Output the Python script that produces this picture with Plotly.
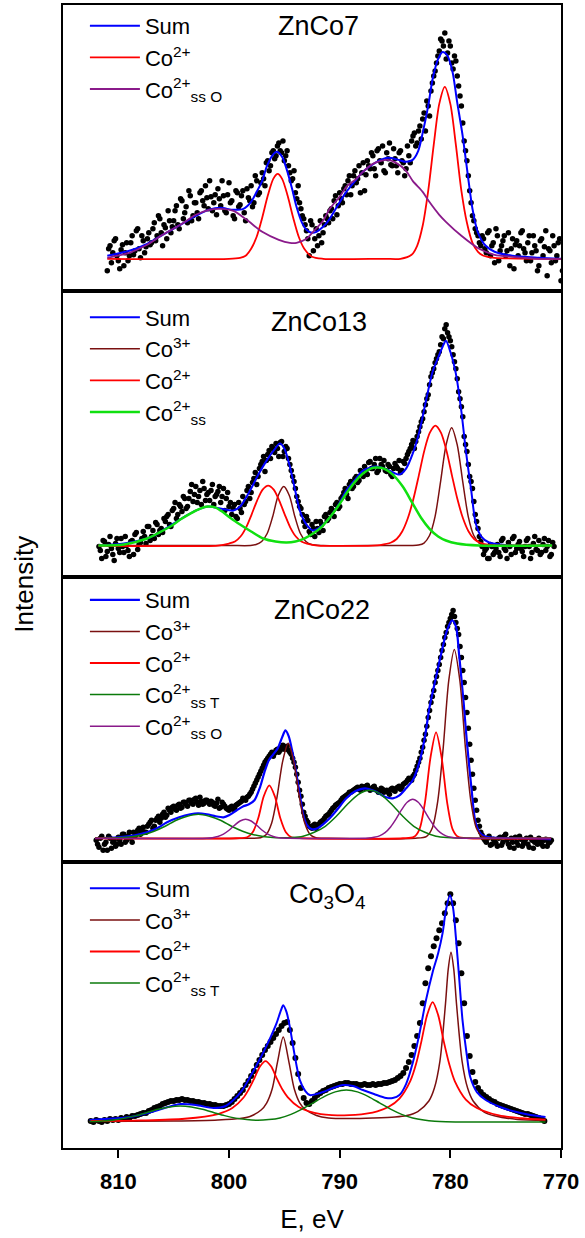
import numpy as np
import plotly.graph_objects as go
from plotly.subplots import make_subplots

# ---------------- data (binding energy, eV ; intensity, arb. units) ----------------
STEP = 0.25

# ZnCo7  (two interleaved reading passes of the measured points)
zn7_data_start = 811.0
zn7_data = [
    20, 45, 38, 52, 30, 41, 25, 48,
    35, 55, 40, 62, 33, 50, 44, 58,
    48, 68, 55, 72, 45, 63, 80, 58,
    70, 85, 62, 90, 78, 68, 95, 75,
    88, 72, 100, 85, 93, 110, 80, 96,
    102, 85, 95, 78, 108, 90, 72, 98,
    86, 100, 70, 93, 105, 88, 110, 98,
    118, 105, 130, 125, 140, 135, 148, 138,
    130, 140, 118, 112, 98, 105, 82, 72,
    60, 35, 66, 52, 45, 70, 58, 75,
    68, 82, 90, 76, 98, 88, 105, 110,
    96, 115, 108, 125, 118, 100, 130, 122,
    135, 115, 142, 128, 120, 138, 148, 125,
    132, 118, 140, 128, 122, 135, 150, 158,
    148, 165, 172, 160, 185, 200, 215, 228,
    240, 250, 258, 238, 245, 222, 230, 205,
    185, 150, 130, 100, 75, 62, 55, 45,
    52, 38, 60, 45, 28, 55, 40, 50,
    35, 58, 42, 22, 50, 45, 60, 38,
    48, 30, 55, 40, 25, 52, 44, 15,
    40, 55, 30, 48, 10]
zn7_data_b_start = 810.875
zn7_data_b = [
    42, 28, 50, 35, 22, 46, 38, 30,
    48, 36, 60, 42, 55, 38, 52, 46,
    62, 50, 75, 58, 66, 52, 70, 64,
    80, 66, 92, 72, 84, 100, 70, 88,
    78, 98, 90, 105, 82, 94, 88, 76,
    92, 110, 80, 96, 88, 75, 100, 84,
    95, 78, 102, 90, 84, 115, 96, 108,
    112, 128, 120, 138, 132, 145, 140, 150,
    135, 125, 110, 120, 92, 88, 75, 66,
    52, 70, 40, 62, 55, 48, 66, 72,
    80, 72, 95, 85, 92, 102, 96, 115,
    105, 120, 112, 98, 128, 116, 125, 138,
    122, 140, 130, 145, 118, 132, 126, 142,
    125, 138, 130, 115, 145, 128, 155, 145,
    160, 152, 178, 190, 175, 208, 220, 235,
    252, 245, 232, 250, 228, 235, 215, 195,
    168, 140, 115, 88, 70, 58, 48, 55,
    42, 58, 35, 48, 62, 30, 45, 55,
    40, 25, 52, 46, 35, 58, 42, 30,
    55, 38, 45, 20, 50, 35, 60, 42,
    28, 45, 35, 52, 20]
zn7_sum_E = [811, 809, 807.4, 806, 804.4, 803, 801.8, 800.8, 799.6, 798.7, 798, 797.5, 797, 796.6, 796.1,
             795.7, 795.2, 794.8, 794.3, 793.9, 793.4, 793, 792.5, 792.1, 791.5, 790.9, 790.2, 789.4, 788.6,
             787.9, 786.8, 785.65, 784.7, 784, 783.4, 782.9, 782.5, 782, 781.6, 781.1, 780.7, 780.3, 779.8,
             779.4, 778.9, 778.4, 778, 777.5, 776.8, 776, 774.4, 772, 770]
zn7_sum_I = [35, 40, 47, 56, 66, 75, 81, 83, 81, 82, 89, 99, 110, 124, 135, 139, 134, 122, 102, 84, 68, 61,
             58, 59, 64, 72, 85, 99, 110, 119, 128, 133, 131, 129, 131, 140, 158, 185, 212, 232, 239, 236,
             219, 190, 156, 114, 82, 58, 45, 39, 35, 33, 32]
zn7_co2_E = [811, 800, 799, 798.5, 798, 797.5, 797, 796.5, 796, 795.6, 795.2, 794.7, 794.2, 793.7, 793.2,
             792.5, 791.5, 786, 784.5, 783.5, 783, 782.5, 782, 781.5, 781, 780.5, 780, 779.5, 779, 778.5,
             778, 777.5, 777, 776, 770]
zn7_co2_I = [32, 32, 33, 35, 42, 54, 73, 95, 112, 117, 112, 95, 73, 54, 42, 34, 32, 32, 32, 36, 45, 65,
             100, 146, 187, 204, 187, 146, 100, 68, 48, 39, 35, 33, 32]
zn7_sso_E = [811, 809, 807.4, 806, 804.4, 803, 801.8, 800.8, 799.6, 798.4, 797, 795.5, 794.5, 793.9, 793,
             792.4, 791.5, 790.9, 790, 789.4, 788.5, 787.9, 787, 785.7, 784.9, 784, 783.4, 782.5, 781.9,
             781, 780.4, 779, 777.4, 776, 774.4, 772, 770]
zn7_sso_I = [33, 38, 46, 56, 66, 76, 81, 82, 80, 71, 59, 51, 48, 48, 52, 59, 70, 82, 94, 104, 112, 119,
             127, 131, 128, 120, 110, 99, 89, 76, 69, 55, 42, 36, 34, 32, 32]

# ZnCo13
zn13_data_start = 811.75
zn13_data = [
    30, 18, 35, 25, 40, 22, 33, 28,
    38, 24, 31, 20, 36, 42, 27, 34,
    45, 33, 50, 40, 38, 52, 46, 44,
    55, 62, 50, 68, 58, 72, 65, 78,
    70, 85, 75, 90, 80, 72, 88, 82,
    76, 92, 80, 85, 74, 88, 78, 70,
    62, 72, 58, 68, 80, 75, 90, 84,
    98, 92, 108, 115, 105, 122, 118, 128,
    133, 120, 135, 125, 128, 112, 100, 88,
    75, 68, 55, 60, 45, 52, 40, 48,
    55, 46, 62, 58, 68, 60, 74, 70,
    80, 88, 78, 95, 90, 100, 96, 104,
    110, 102, 115, 108, 118, 106, 112, 116,
    105, 110, 100, 113, 108, 104, 115, 118,
    125, 132, 128, 140, 150, 158, 172, 182,
    200, 208, 218, 225, 240, 248, 244, 236,
    222, 208, 185, 170, 140, 125, 100, 88,
    62, 48, 35, 22, 28, 18, 30, 24,
    32, 20, 38, 26, 34, 22, 40, 28,
    35, 25, 30, 38, 18, 33, 27, 36,
    24, 38, 30, 20, 34]
zn13_data_b_start = 811.625
zn13_data_b = [
    26, 36, 20, 32, 28, 16, 38, 24,
    30, 40, 26, 35, 22, 44, 32, 38,
    40, 50, 36, 46, 54, 42, 48, 58,
    60, 52, 66, 74, 62, 70, 80, 68,
    78, 92, 82, 74, 86, 95, 76, 84,
    86, 72, 82, 90, 80, 66, 84, 74,
    68, 60, 74, 64, 72, 86, 78, 94,
    104, 100, 112, 120, 116, 126, 130, 124,
    128, 134, 120, 130, 118, 106, 95, 80,
    70, 62, 50, 56, 42, 48, 55, 44,
    52, 60, 56, 64, 66, 72, 68, 78,
    84, 82, 92, 88, 98, 94, 106, 100,
    106, 114, 108, 112, 104, 118, 110, 106,
    112, 102, 108, 110, 116, 106, 113, 122,
    128, 136, 135, 145, 155, 165, 178, 192,
    204, 214, 222, 232, 238, 252, 240, 230,
    215, 198, 178, 160, 132, 112, 95, 75,
    55, 40, 30, 26, 18, 32, 22, 28,
    24, 36, 28, 18, 30, 38, 24, 32,
    28, 20, 36, 30, 24, 40, 26, 22,
    32, 26, 36, 22, 30]
zn13_sum_E = [811.8, 809.5, 807.4, 806.3, 805.3, 804, 803, 801.9, 800.8, 799.6, 799, 798.1, 797.3, 796.6,
              795.9, 795.4, 795, 794.5, 794, 793.6, 793, 792.4, 791.7, 790.9, 790.1, 789.4, 788.6, 787.9,
              786.7, 785.5, 784.6, 784, 783.4, 782.8, 782.2, 781.6, 781.1, 780.7, 780.4, 780, 779.5, 779,
              778.6, 778.1, 777.7, 777.2, 776.5, 774.4, 770.8]
zn13_sum_I = [31, 33, 38, 44, 51, 60, 66, 70, 68, 66, 70, 86, 103, 116, 127, 133, 128, 110, 85, 66, 52, 46,
              50, 59, 72, 86, 97, 106, 110, 106, 102, 108, 123, 145, 176, 205, 219, 230, 236, 225, 203, 165,
              126, 85, 53, 40, 34, 31, 31]
zn13_co3_E = [811.8, 800, 798.05, 797.55, 797.05, 796.55, 796.05, 795.55, 795.05, 794.55, 794.05, 793.55,
              793.05, 792.55, 791.5, 786, 783.38, 782.88, 782.38, 781.88, 781.38, 780.88, 780.38, 779.88,
              779.38, 778.88, 778.38, 777.88, 777.38, 776.88, 775, 770.8]
zn13_co3_I = [31, 31, 31, 32, 35, 43, 60, 81, 90, 81, 60, 43, 35, 32, 31, 31, 31, 31.5, 33.5, 41, 60, 95,
              132, 149, 132, 95, 60, 41, 33.5, 31.5, 31, 31]
zn13_co2_E = [811.8, 801, 800, 799.46, 798.96, 798.46, 797.96, 797.46, 796.96, 796.46, 795.96, 795.46,
              794.96, 794.46, 793.96, 793.46, 792.96, 792, 787, 786.35, 785.35, 784.85, 784.35, 783.85,
              783.35, 782.85, 782.35, 781.85, 781.35, 780.85, 780.35, 779.85, 779.35, 778.85, 778.35,
              777.85, 777.35, 776.35, 770.8]
zn13_co2_I = [31, 31, 33, 35, 40, 49, 62, 76, 87, 91, 87, 76, 62, 49, 40, 35, 33, 31, 31, 31.5, 34, 37.5,
              45, 58, 77, 101, 126, 144, 151, 144, 126, 101, 77, 58, 45, 37.5, 34, 31.5, 31]
zn13_ss_E = [811.8, 809.5, 807.4, 806.3, 805.3, 804.4, 803.5, 802.6, 801.9, 801.2, 800.5, 799.8, 799, 798,
             796.9, 795.8, 794.8, 794, 793.2, 792.4, 791.6, 790.9, 790.1, 789.4, 788.6, 787.9, 787.2, 786.7,
             786, 785.2, 784.3, 783.4, 782.6, 781.9, 781.1, 780.4, 779.4, 777.4, 770.8]
zn13_ss_I = [31, 32, 38, 44, 50, 57, 63, 68, 70, 69, 64, 58, 52, 45, 38, 35, 34, 35, 38, 43, 50, 59, 71,
             83, 95, 103, 108, 109, 108, 102, 90, 73, 58, 48, 40, 36, 33, 31, 31]

# ZnCo22
zn22_data_start = 812.0
zn22_data = [
    22, 15, 26, 18, 12, 24, 20, 16,
    25, 18, 28, 22, 30, 20, 26, 32,
    28, 35, 30, 38, 42, 36, 44, 40,
    48, 45, 54, 50, 56, 52, 58, 55,
    60, 56, 62, 58, 64, 57, 61, 59,
    62, 58, 60, 56, 63, 55, 58, 54,
    52, 56, 54, 58, 60, 64, 62, 66,
    70, 76, 82, 88, 94, 100, 104, 108,
    106, 112, 110, 115, 113, 116, 110, 104,
    95, 80, 66, 50, 42, 36, 34, 38,
    36, 40, 42, 46, 48, 52, 55, 58,
    60, 64, 66, 68, 70, 72, 74, 73,
    76, 74, 77, 72, 75, 73, 70, 74,
    70, 72, 68, 74, 71, 75, 73, 78,
    80, 84, 82, 88, 96, 104, 115, 128,
    145, 160, 172, 186, 198, 212, 225, 236,
    244, 252, 240, 228, 205, 180, 150, 118,
    88, 62, 42, 30, 24, 20, 26, 18,
    22, 16, 25, 20, 28, 18, 24, 14,
    20, 26, 16, 22, 18, 25, 14, 21,
    24, 18, 22, 16, 20]
zn22_data_b_start = 811.875
zn22_data_b = [
    18, 24, 12, 20, 26, 14, 22, 18,
    22, 28, 20, 26, 24, 30, 28, 34,
    32, 30, 36, 40, 34, 42, 46, 44,
    50, 47, 52, 55, 53, 57, 54, 60,
    58, 62, 59, 63, 60, 65, 58, 62,
    60, 61, 57, 59, 54, 60, 56, 53,
    55, 53, 57, 59, 61, 63, 65, 68,
    73, 79, 85, 91, 97, 102, 106, 110,
    109, 113, 112, 117, 114, 112, 108, 100,
    88, 72, 58, 46, 40, 35, 37, 34,
    38, 41, 44, 47, 50, 54, 57, 59,
    62, 65, 67, 70, 71, 73, 75, 72,
    75, 76, 74, 73, 76, 72, 71, 73,
    71, 70, 73, 72, 74, 76, 75, 79,
    82, 83, 86, 92, 100, 110, 122, 136,
    152, 166, 180, 192, 205, 218, 230, 240,
    248, 246, 234, 216, 192, 165, 134, 102,
    74, 52, 36, 27, 22, 24, 17, 23,
    19, 24, 17, 26, 22, 15, 20, 25,
    17, 23, 19, 24, 15, 22, 20, 18,
    21, 16, 23, 19, 22]
zn22_sum_E = [812.1, 810, 808.5, 807.4, 806.5, 805.6, 804.5, 803.5, 802.8, 802, 801.2, 800.5, 800, 799.3,
              798.7, 798.2, 797.7, 797.2, 796.8, 796.4, 796, 795.6, 795.2, 794.9, 794.6, 794.3, 794, 793.6,
              793.3, 793, 792.5, 792, 791.5, 790.9, 790.2, 789.4, 788.6, 787.7, 786.8, 785.8, 785.2, 784.6,
              784, 783.4, 782.8, 782.3, 781.9, 781.4, 780.8, 780.3, 779.85, 779.5, 779.2, 778.8, 778.5,
              778.1, 777.7, 777.2, 776.5, 774, 770.9]
zn22_sum_I = [24, 25, 27, 30, 34, 40, 45, 48, 49, 48, 46, 45, 47, 52, 56, 58, 62, 75, 90, 102, 108, 114,
              125, 132, 126, 112, 94, 68, 48, 38, 33, 34, 38, 44, 53, 64, 71, 74, 71, 65, 64, 67, 74, 82,
              100, 125, 154, 180, 210, 232, 242, 236, 207, 160, 120, 75, 39, 28, 25, 24, 23]
zn22_co3_E = [812.1, 798.15, 797.15, 796.65, 796.15, 795.65, 795.15, 794.65, 794.15, 793.65, 793.15,
              792.65, 792.15, 791, 783.14, 782.14, 781.64, 781.14, 780.64, 780.14, 779.64, 779.14, 778.64,
              778.14, 777.64, 777.14, 776.14, 770.9]
zn22_co3_I = [24, 24, 24.5, 27.5, 39, 66, 101, 119, 101, 66, 39, 27.5, 24.5, 24, 24, 26, 34, 61, 115, 182,
              213, 182, 115, 61, 34, 26, 24, 24]
zn22_co2_E = [812.1, 799.36, 798.36, 797.86, 797.36, 796.86, 796.36, 795.86, 795.36, 794.86, 794.36,
              793.36, 784.29, 783.29, 782.79, 782.29, 781.79, 781.29, 780.79, 780.29, 779.79, 779.29,
              778.29, 770.9]
zn22_co2_I = [24, 24, 25, 30, 44, 66, 77, 66, 44, 30, 25, 24, 24, 25.4, 33, 60, 105, 130, 105, 60, 33,
              25.4, 24, 24]
zn22_sst_E = [812.1, 810, 808.77, 807.77, 806.77, 805.77, 804.77, 803.77, 802.77, 801.77, 800.77, 799.77,
              798.77, 797.77, 796.77, 795.77, 794.3, 793.3, 792.3, 791.3, 790.3, 789.3, 788.3, 787.3,
              786.3, 785.3, 784.3, 783.3, 782.3, 781.3, 780.3, 778, 770.9]
zn22_sst_I = [24, 24.5, 25.5, 27.5, 31, 36, 42, 46, 48, 46, 42, 36, 31, 27.5, 25.5, 24.6, 24.7, 26, 30,
              36, 46, 58, 68, 72, 68, 58, 46, 36, 30, 26, 24.7, 24, 24]
zn22_sso_E = [812.1, 802, 801.5, 801, 800.5, 800, 799.5, 799, 798.5, 798, 797.5, 797, 796.5, 796, 795.5,
              794.5, 788, 787.4, 786.9, 786.4, 785.9, 785.4, 784.9, 784.4, 783.9, 783.4, 782.9, 782.4,
              781.9, 781.4, 780.9, 780.4, 779.9, 779.4, 777, 770.9]
zn22_sso_I = [24, 24, 24.6, 25.8, 28.2, 32, 37, 41.3, 43, 41.3, 37, 32, 28.2, 25.8, 24.6, 24, 24, 24.3,
              25, 26.4, 29.6, 35.3, 43.4, 52.6, 60, 63, 60, 52.6, 43.4, 35.3, 29.6, 26.4, 25, 24.3, 24, 24]

# Co3O4
co_data_start = 812.5
co_data = [
    27, 26, 28, 27, 26, 28, 27, 29,
    28, 29, 28, 30, 29, 31, 30, 32,
    32, 33, 34, 35, 35, 37, 38, 40,
    41, 42, 44, 45, 46, 47, 47, 48,
    48, 49, 48, 48, 47, 47, 46, 46,
    45, 45, 44, 44, 43, 43, 42, 42,
    42, 43, 44, 46, 49, 52, 55, 58,
    63, 67, 72, 77, 83, 88, 93, 98,
    102, 106, 110, 114, 118, 122, 125, 126,
    118, 105, 90, 74, 60, 50, 45, 44,
    47, 50, 53, 55, 57, 58, 60, 61,
    62, 63, 64, 64, 65, 65, 64, 64,
    64, 63, 63, 64, 63, 63, 64, 63,
    64, 64, 65, 65, 66, 67, 68, 70,
    72, 75, 80, 86, 93, 102, 112, 125,
    145, 165, 180, 192, 202, 210, 218, 225,
    235, 245, 254, 245, 228, 205, 175, 145,
    112, 92, 76, 66, 60, 56, 53, 51,
    49, 47, 46, 44, 43, 42, 41, 40,
    39, 38, 37, 36, 35, 34, 34, 33,
    32, 31, 30, 29, 27]
co_sum_E = [812.6, 810.5, 808.9, 807, 805.5, 804.4, 803, 801.4, 800.3, 799.6, 798.8, 798.1, 797.4, 796.8,
            796.2, 795.7, 795.3, 795.1, 794.8, 794.5, 794.1, 793.6, 793.1, 792.7, 792.1, 791.5, 790.6,
            789.7, 788.8, 787.9, 786.9, 785.8, 785.2, 784.6, 784, 783.4, 782.8, 782.2, 781.6, 781.1, 780.7,
            780.4, 780.03, 779.75, 779.5, 779.2, 778.9, 778.5, 778.2, 777.6, 776.8, 775.5, 774.4, 773, 771.4]
co_sum_I = [28, 29.5, 31, 36, 41, 44, 43, 40, 42, 48, 58, 71, 85, 98, 112, 125, 138, 143, 136, 121, 95, 68,
            57, 53, 54, 56, 60, 63, 62, 58, 54, 50, 50, 53, 64, 85, 114, 148, 176, 195, 215, 238, 253, 240,
            211, 170, 128, 92, 71, 56, 48, 41, 37, 33.5, 31]
co_co3_E = [812.6, 805, 801, 799, 798.1, 797.1, 796.6, 796.1, 795.6, 795.1, 794.6, 794.1, 793.6, 793.1,
            792.1, 791, 789, 787, 785, 783.94, 782.94, 781.94, 781.44, 780.94, 780.44, 780.19, 779.94,
            779.69, 779.44, 778.94, 778.44, 777.94, 776.94, 775.94, 773.94, 771.4]
co_co3_I = [26.5, 27, 28, 29.5, 31.6, 38, 45, 59, 87, 111, 87, 59, 45, 38.5, 32.5, 30, 29.5, 30, 31, 32.5,
            36.5, 47, 60, 87, 144, 179, 196, 179, 144, 87, 60, 47, 36, 32, 28.6, 27.5]
co_co2_E = [812.5, 808, 804, 801, 799.7, 798.7, 798.2, 797.7, 797.2, 796.7, 796.2, 795.7, 795.2, 794.7,
            793.7, 792.7, 791.7, 790.7, 789.6, 788.6, 787.6, 786.6, 785.6, 784.6, 783.6, 783.1, 782.6,
            782.1, 781.6, 781.1, 780.6, 780.1, 779.6, 778.6, 777.6, 775.6, 773.6, 771.4]
co_co2_I = [27, 27.6, 29.3, 34, 40, 50.3, 59, 70, 81.6, 87, 81.8, 70, 59, 51, 41, 36.3, 34, 33, 32.7,
            33.2, 34.4, 36.7, 41, 49.5, 67.5, 84, 107.5, 133, 146, 133, 107, 84, 67, 48.5, 40, 32.6,
            29.8, 28.3]
co_sst_E = [812.6, 811.4, 810.4, 809.4, 808.4, 807.4, 806.4, 805.4, 804.4, 803.4, 802.4, 801.4, 800.4,
            799.4, 798.4, 797.4, 796.4, 795.4, 794.4, 793.4, 792.4, 791.4, 790.4, 789.4, 788.4, 787.4,
            786.4, 785.4, 784.4, 783.4, 782.4, 781.4, 780.4, 776, 771.4]
co_sst_I = [26.4, 27, 28.1, 29.9, 32.4, 35.6, 38.8, 41.1, 42, 41.1, 38.8, 35.6, 32.4, 29.9, 28.4, 27.8,
            28.4, 30.1, 33.7, 38.9, 45.2, 51.5, 56.2, 58, 56.2, 51.5, 45.2, 38.9, 33.7, 30.1, 28, 26.8,
            26.3, 26, 26]

panel_titles = ["ZnCo7", "ZnCo13", "ZnCo22", "Co<sub>3</sub>O<sub>4</sub>"]
x_ticks = [810, 800, 790, 780, 770]

# ---------------- styling ----------------
FONT = "Liberation Sans, Arial, sans-serif"
BLUE, RED, BROWN = "#0000ff", "#ff0000", "#7a1010"
GREEN_L, GREEN_D, PURPLE = "#10e010", "#0b7a0b", "#8a1a8a"

L_SUM = "Sum"
L_CO3 = "Co<sup>3+</sup>"
L_CO2 = "Co<sup>2+</sup>"
L_SS = "Co<sup>2+</sup><sub>ss</sub>"
L_SST = "Co<sup>2+</sup><sub>ss T</sub>"
L_SSO = "Co<sup>2+</sup><sub>ss O</sub>"

panels = [
    dict(sets=[(zn7_data_start, zn7_data), (zn7_data_b_start, zn7_data_b)], curves=[
        (L_SUM, zn7_sum_E, zn7_sum_I, BLUE, 2.0),
        (L_CO2, zn7_co2_E, zn7_co2_I, RED, 1.8),
        (L_SSO, zn7_sso_E, zn7_sso_I, PURPLE, 1.8)], msize=5.5),
    dict(sets=[(zn13_data_start, zn13_data), (zn13_data_b_start, zn13_data_b)], curves=[
        (L_SUM, zn13_sum_E, zn13_sum_I, BLUE, 2.0),
        (L_CO3, zn13_co3_E, zn13_co3_I, BROWN, 1.5),
        (L_CO2, zn13_co2_E, zn13_co2_I, RED, 1.8),
        (L_SS, zn13_ss_E, zn13_ss_I, GREEN_L, 2.5)], msize=5.5),
    dict(sets=[(zn22_data_start, zn22_data), (zn22_data_b_start, zn22_data_b)], curves=[
        (L_SUM, zn22_sum_E, zn22_sum_I, BLUE, 2.2),
        (L_CO3, zn22_co3_E, zn22_co3_I, BROWN, 1.5),
        (L_CO2, zn22_co2_E, zn22_co2_I, RED, 1.8),
        (L_SST, zn22_sst_E, zn22_sst_I, GREEN_D, 1.5),
        (L_SSO, zn22_sso_E, zn22_sso_I, PURPLE, 1.5)], msize=5.5),
    dict(sets=[(co_data_start, co_data)], curves=[
        (L_SUM, co_sum_E, co_sum_I, BLUE, 2.0),
        (L_CO3, co_co3_E, co_co3_I, BROWN, 1.5),
        (L_CO2, co_co2_E, co_co2_I, RED, 1.8),
        (L_SST, co_sst_E, co_sst_I, GREEN_D, 1.5)], msize=6.0),
]

fig = make_subplots(rows=4, cols=1, shared_xaxes=True, vertical_spacing=0)

legend_names = ["legend", "legend2", "legend3", "legend4"]
for i, p in enumerate(panels):
    row = i + 1
    xs, ys = [], []
    for start, vals in p["sets"]:
        xs.append(start - STEP * np.arange(len(vals)))
        ys.append(np.asarray(vals, dtype=float))
    fig.add_trace(go.Scatter(x=np.concatenate(xs), y=np.concatenate(ys), mode="markers",
                             marker=dict(color="black", size=p["msize"]),
                             showlegend=False, hoverinfo="skip"), row=row, col=1)
    for name, E, I, color, w in p["curves"]:
        fig.add_trace(go.Scatter(x=E, y=I, mode="lines", name=name,
                                 line=dict(color=color, width=w, shape="spline", smoothing=0.8),
                                 legend=legend_names[i]), row=row, col=1)

# axes
for r in range(1, 5):
    fig.update_yaxes(range=[0, 286], showticklabels=False, ticks="", showgrid=False, zeroline=False,
                     showline=True, mirror=True, linecolor="black", linewidth=2, row=r, col=1)
    fig.update_xaxes(range=[815, 770], showgrid=False, zeroline=False, showline=True, mirror=True,
                     linecolor="black", linewidth=2, ticks="", showticklabels=False, row=r, col=1)
fig.update_xaxes(ticks="outside", ticklen=8, tickwidth=2, tickcolor="black",
                 tickvals=x_ticks, ticktext=[str(v) for v in x_ticks], showticklabels=True,
                 ticklabelstandoff=5,
                 tickfont=dict(family=FONT, size=22, color="black", weight="bold"),
                 title=dict(text="E, eV", font=dict(family=FONT, size=26, color="black"), standoff=16),
                 row=4, col=1)

# legends
leg_y = [1.0, 0.745, 0.4978, 0.2454]
leg_common = dict(x=0.044, xanchor="left", yanchor="top", bgcolor="rgba(0,0,0,0)", itemwidth=50,
                  font=dict(family=FONT, size=22, color="black"), tracegroupgap=0, borderwidth=0)
legends = {}
for name, y in zip(legend_names, leg_y):
    legends[name] = dict(y=y, **leg_common)
fig.update_layout(**legends)

# panel titles
title_pos = [(791.9, 265), (791.9, 255), (791.6, 252), (791.1, 252)]
for i, (t, (tx, ty)) in enumerate(zip(panel_titles, title_pos)):
    sfx = "" if i == 0 else str(i + 1)
    fig.add_annotation(x=tx, y=ty, xref="x" + sfx, yref="y" + sfx, text=t, showarrow=False,
                       font=dict(family=FONT, size=27, color="black"), xanchor="center", yanchor="middle")

fig.add_annotation(x=-0.08, y=0.493, xref="paper", yref="paper", text="Intensity", textangle=-90,
                   showarrow=False, font=dict(family=FONT, size=26, color="black"),
                   xanchor="center", yanchor="middle")

fig.update_layout(width=585, height=1238, margin=dict(l=63, r=24, t=3, b=90),
                  paper_bgcolor="white", plot_bgcolor="white", font=dict(family=FONT, color="black"),
                  hovermode=False)

fig.write_html("out.html", config={"displayModeBar": False},
               post_script="document.body.style.margin='0';document.body.style.padding='0';")
